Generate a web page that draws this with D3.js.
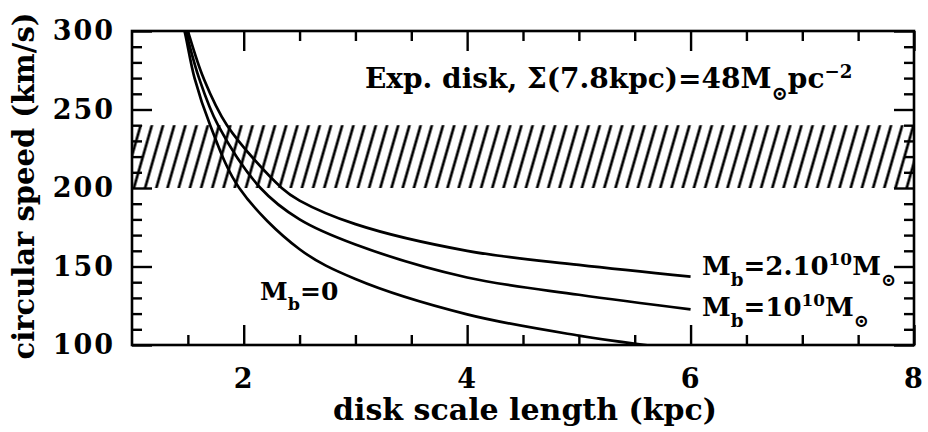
<!DOCTYPE html>
<html lang="en">
<head>
  <meta charset="UTF-8">
  <title>circular speed vs disk scale length</title>
  <script src="https://cdn.jsdelivr.net/npm/d3@7"></script>
  <style>
    body { margin: 0; background: #fff; }
    text { font-family: "DejaVu Serif", serif; font-weight: bold; fill: #000; }
  </style>
</head>
<body>
<div id="chart"></div>
<script>
  // values
  const hBulge0 = [1.43, 1.47, 1.56, 1.70, 1.96, 2.5, 3, 4, 5, 5.7];
  const vBulge0 = [310, 300, 270, 240, 200, 161, 142, 119.5, 106, 99];
  const hBulge1 = [1.44, 1.48, 1.60, 1.77, 2.15, 2.5, 3, 4, 5, 6];
  const vBulge1 = [310, 300, 270, 240, 200, 180, 164, 143, 132, 122.7];
  const hBulge2 = [1.46, 1.50, 1.64, 1.85, 2.34, 2.5, 3, 4, 5, 6];
  const vBulge2 = [310, 300, 270, 240, 200, 192, 177, 160, 151, 143.5];
  const band = [200, 240];

  const xMajor = [2, 4, 6, 8];
  const xMinor = [1.5, 2.5, 3, 3.5, 4.5, 5, 5.5, 6.5, 7, 7.5];
  const yMajor = [100, 150, 200, 250, 300];
  const yMinor = [110, 120, 130, 140, 160, 170, 180, 190, 210, 220, 230, 240, 260, 270, 280, 290];

  const W = 928, H = 432;
  const plot = { left: 132, right: 914, top: 31, bottom: 345 };

  const x = d3.scaleLinear().domain([1, 8]).range([plot.left, plot.right]);
  const y = d3.scaleLinear().domain([100, 300]).range([plot.bottom, plot.top]);

  const svg = d3.select('#chart').append('svg')
    .attr('width', W).attr('height', H);

  const defs = svg.append('defs');
  defs.append('clipPath').attr('id', 'clip')
    .append('rect')
    .attr('x', plot.left).attr('y', plot.top)
    .attr('width', plot.right - plot.left).attr('height', plot.bottom - plot.top);

  // diagonal hatching
  const pat = defs.append('pattern')
    .attr('id', 'hatch')
    .attr('patternUnits', 'userSpaceOnUse')
    .attr('width', 11.2).attr('height', 20)
    .attr('patternTransform', 'translate(3,0) skewX(-16)');
  pat.append('line')
    .attr('x1', 5.6).attr('x2', 5.6).attr('y1', -1).attr('y2', 21)
    .attr('stroke', '#000').attr('stroke-width', 2.8);

  svg.append('rect')
    .attr('clip-path', 'url(#clip)')
    .attr('x', x(1)).attr('width', x(8) - x(1))
    .attr('y', y(band[1])).attr('height', y(band[0]) - y(band[1]))
    .attr('fill', 'url(#hatch)');

  // curves
  const line = d3.line()
    .x(d => x(d[0])).y(d => y(d[1]))
    .curve(d3.curveCatmullRom.alpha(0.5));
  const series = [
    d3.zip(hBulge0, vBulge0),
    d3.zip(hBulge1, vBulge1),
    d3.zip(hBulge2, vBulge2)
  ];
  svg.append('g').attr('clip-path', 'url(#clip)')
    .selectAll('path').data(series).join('path')
    .attr('d', line)
    .attr('fill', 'none')
    .attr('stroke', '#000')
    .attr('stroke-width', 2.7);

  // ticks on all four sides, pointing inwards
  function styleAxis(g) {
    g.select('.domain').remove();
    g.selectAll('line').attr('stroke', '#000').attr('stroke-width', 2.4);
    g.attr('font-family', null).attr('font-size', 27);
    g.selectAll('text').attr('letter-spacing', 2);
  }
  [[d3.axisBottom, plot.bottom, true], [d3.axisTop, plot.top, false]].forEach(([fn, pos, labels]) => {
    const major = fn(x).tickValues(xMajor).tickSize(-20).tickPadding(24).tickFormat(d3.format('d'));
    if (!labels) major.tickFormat('');
    svg.append('g').attr('transform', `translate(0,${pos})`).call(major).call(styleAxis);
    svg.append('g').attr('transform', `translate(0,${pos})`)
      .call(fn(x).tickValues(xMinor).tickSize(-10).tickFormat('')).call(styleAxis);
  });
  [[d3.axisLeft, plot.left, true], [d3.axisRight, plot.right, false]].forEach(([fn, pos, labels]) => {
    const major = fn(y).tickValues(yMajor).tickSize(-20).tickPadding(17);
    if (!labels) major.tickFormat('');
    svg.append('g').attr('transform', `translate(${pos},0)`).call(major).call(styleAxis);
    svg.append('g').attr('transform', `translate(${pos},0)`)
      .call(fn(y).tickValues(yMinor).tickSize(-10).tickFormat('')).call(styleAxis);
  });

  // frame
  svg.append('rect')
    .attr('x', plot.left).attr('y', plot.top)
    .attr('width', plot.right - plot.left).attr('height', plot.bottom - plot.top)
    .attr('fill', 'none').attr('stroke', '#000').attr('stroke-width', 2.6);

  // axis titles
  svg.append('text')
    .attr('x', 525).attr('y', 420)
    .attr('text-anchor', 'middle').attr('font-size', 30)
    .text('disk scale length (kpc)');
  svg.append('text')
    .attr('transform', 'translate(34,186) rotate(-90)')
    .attr('text-anchor', 'middle').attr('font-size', 29)
    .text('circular speed (km/s)');

  // annotations
  const sub = (t, txt) => t.append('tspan').attr('baseline-shift', 'sub').attr('font-size', '70%').text(txt);
  const sup = (t, txt) => t.append('tspan').attr('baseline-shift', 'super').attr('font-size', '65%').text(txt);
  const plain = (t, txt) => t.append('tspan').text(txt);

  let t = svg.append('text').attr('x', 365).attr('y', 88).attr('font-size', 28);
  plain(t, 'Exp. disk, Σ(7.8kpc)=48M'); sub(t, '⊙'); plain(t, 'pc'); sup(t, '−2');

  t = svg.append('text').attr('x', 260).attr('y', 300).attr('font-size', 25);
  plain(t, 'M'); sub(t, 'b'); plain(t, '=0');

  t = svg.append('text').attr('x', 702).attr('y', 275).attr('font-size', 26);
  plain(t, 'M'); sub(t, 'b'); plain(t, '=2.10'); sup(t, '10'); plain(t, 'M'); sub(t, '⊙');

  t = svg.append('text').attr('x', 702).attr('y', 316).attr('font-size', 26);
  plain(t, 'M'); sub(t, 'b'); plain(t, '=10'); sup(t, '10'); plain(t, 'M'); sub(t, '⊙');
</script>
</body>
</html>
